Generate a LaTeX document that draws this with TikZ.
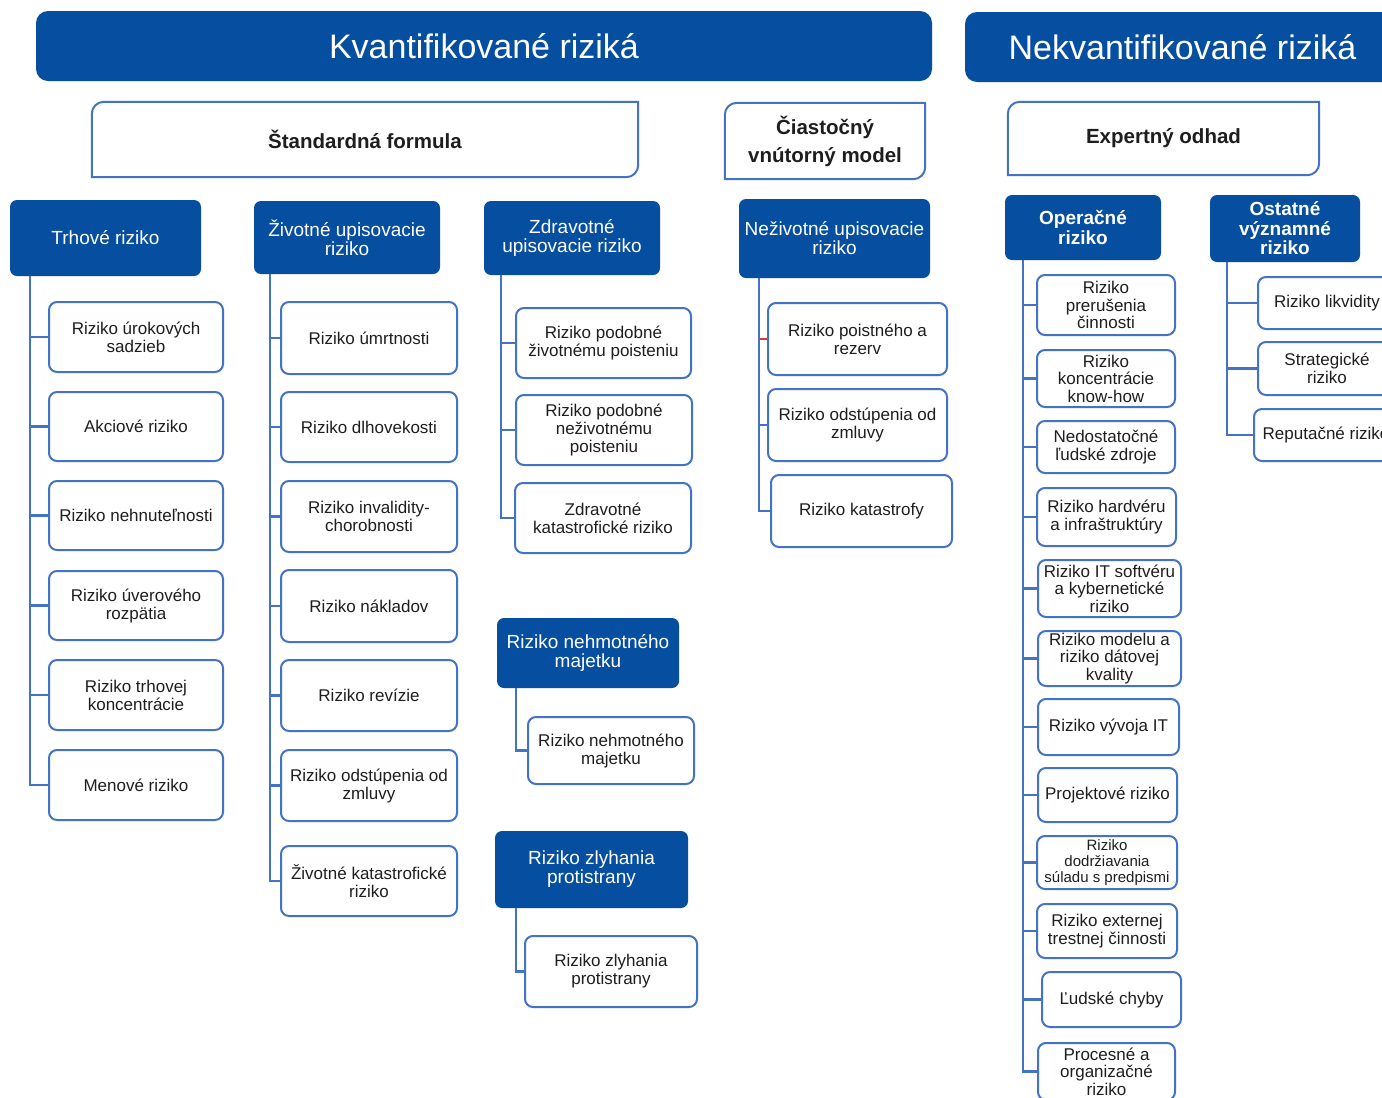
\documentclass[tikz,border=0pt]{standalone}
\usepackage{fontspec}
\setmainfont{Liberation Sans}
\definecolor{dblue}{HTML}{064E9F}
\definecolor{lblue}{HTML}{4472C4}
\definecolor{txt}{HTML}{1E1E1E}
\definecolor{redc}{HTML}{D9383A}
\newcommand\bx[7]{\node[#1,minimum width={(#4-#2)*1pt},minimum height={(#5-#3)*1pt}] (#6) at ({(#2+#4)/2},{(#3+#5)/2}) {#7};}
\newcommand\diagborder[1]{\draw[lblue,line width=2pt] (#1.south west) -- ([yshift=-12pt]#1.north west) arc[start angle=180,end angle=90,radius=12pt] -- (#1.north east) -- ([yshift=12pt]#1.south east) arc[start angle=0,end angle=-90,radius=12pt] -- cycle;}
\begin{document}
\begin{tikzpicture}[x=1pt,y=-1pt,
  top/.style={fill=dblue,draw=none,rounded corners=12pt,text=white,font=\fontsize{34}{40}\selectfont,inner sep=0pt},
  cat/.style={fill=dblue,draw=none,rounded corners=7pt,text=white,font=\fontsize{19}{19}\selectfont,align=center,inner sep=0pt},
  catb/.style={cat,font=\fontsize{19}{19.5}\selectfont\bfseries},
  leaf/.style={draw=lblue,line width=2pt,fill=white,rounded corners=8pt,text=txt,font=\fontsize{17}{18}\selectfont,align=center,inner sep=0pt},
  leaft/.style={leaf,font=\fontsize{17}{17.5}\selectfont},
  leafs/.style={leaf,font=\fontsize{15}{16}\selectfont},
  meth/.style={draw=none,text=txt,font=\fontsize{20.5}{28}\selectfont\bfseries,align=center,inner sep=0pt},
  conn/.style={draw=lblue,line width=2.2pt},
  connred/.style={draw=redc,line width=2.2pt}]
\clip (0,0) rectangle (1382,1098);
\fill[white] (0,0) rectangle (1382,1098);

% top headers
\bx{top}{36}{11}{932}{81}{kv}{Kvantifikované riziká}
\bx{top}{965}{12}{1400}{82}{nk}{Nekvantifikované riziká}

% methods
\bx{meth}{92}{102}{638}{177}{sf}{Štandardná formula}
\diagborder{sf}
\bx{meth}{725}{103}{925}{179}{cvm}{Čiastočný\\vnútorný model}
\diagborder{cvm}
\bx{meth}{1008}{102}{1319}{175}{eo}{Expertný odhad}
\diagborder{eo}

% categories
\bx{cat}{10}{200}{201}{276}{tr}{Trhové riziko}
\bx{cat}{254}{201}{440}{274}{zi}{Životné upisovacie\\riziko}
\bx{cat}{484}{201}{660}{275}{zd}{Zdravotné\\upisovacie riziko}
\bx{cat}{739}{199}{930}{278}{nz}{Neživotné upisovacie\\riziko}
\bx{catb}{1005}{195}{1161}{260}{op}{Operačné\\riziko}
\bx{catb}{1210}{195}{1360}{262}{os}{Ostatné\\významné\\riziko}
\bx{cat}{497}{618}{679}{688}{nm}{Riziko nehmotného\\majetku}
\bx{cat}{495}{831}{688}{908}{zp}{Riziko zlyhania\\protistrany}

% connector start points
\coordinate (trx) at (30,276);
\coordinate (zix) at (270,274);
\coordinate (zdx) at (501,275);
\coordinate (nzx) at (759,278);
\coordinate (nmx) at (516,688);
\coordinate (zpx) at (516,908);
\coordinate (opx) at (1023,260);
\coordinate (osx) at (1227,262);

% Trhove leaves
\bx{leaf}{49}{302}{223}{372}{t1}{Riziko úrokových\\sadzieb}
\bx{leaf}{49}{392}{223}{461}{t2}{Akciové riziko}
\bx{leaf}{49}{481}{223}{550}{t3}{Riziko nehnuteľnosti}
\bx{leaf}{49}{571}{223}{640}{t4}{Riziko úverového\\rozpätia}
\bx{leaf}{49}{660}{223}{730}{t5}{Riziko trhovej\\koncentrácie}
\bx{leaf}{49}{750}{223}{820}{t6}{Menové riziko}

% Zivotne leaves
\bx{leaf}{281}{302}{457}{374}{z1}{Riziko úmrtnosti}
\bx{leaf}{281}{392}{457}{462}{z2}{Riziko dlhovekosti}
\bx{leaf}{281}{481}{457}{552}{z3}{Riziko invalidity-\\chorobnosti}
\bx{leaf}{281}{570}{457}{642}{z4}{Riziko nákladov}
\bx{leaf}{281}{660}{457}{731}{z5}{Riziko revízie}
\bx{leaf}{281}{750}{457}{821}{z6}{Riziko odstúpenia od\\zmluvy}
\bx{leaf}{281}{846}{457}{916}{z7}{Životné katastrofické\\riziko}

% Zdravotne leaves
\bx{leaf}{516}{308}{691}{378}{d1}{Riziko podobné\\životnému poisteniu}
\bx{leaf}{516}{395}{692}{465}{d2}{Riziko podobné\\neživotnému\\poisteniu}
\bx{leaf}{515}{483}{691}{553}{d3}{Zdravotné\\katastrofické riziko}

% Nezivotne leaves
\bx{leaf}{768}{303}{947}{375}{n1}{Riziko poistného a\\rezerv}
\bx{leaf}{768}{389}{947}{461}{n2}{Riziko odstúpenia od\\zmluvy}
\bx{leaf}{771}{475}{952}{547}{n3}{Riziko katastrofy}

% Nehmotny / zlyhania leaves
\bx{leaf}{528}{717}{694}{784}{m1}{Riziko nehmotného\\majetku}
\bx{leaf}{525}{936}{697}{1007}{p1}{Riziko zlyhania\\protistrany}

% Operacne leaves
\bx{leaft}{1037}{275}{1175}{335}{o1}{Riziko\\prerušenia\\činnosti}
\bx{leaft}{1037}{350}{1175}{407}{o2}{Riziko\\koncentrácie\\know-how}
\bx{leaf}{1037}{421}{1175}{473}{o3}{Nedostatočné\\ľudské zdroje}
\bx{leaf}{1037}{488}{1176}{546}{o4}{Riziko hardvéru\\a infraštruktúry}
\bx{leaft}{1038}{560}{1181}{617}{o5}{Riziko IT softvéru\\a kybernetické\\riziko}
\bx{leaft}{1038}{631}{1181}{686}{o6}{Riziko modelu a\\riziko dátovej\\kvality}
\bx{leaf}{1038}{699}{1179}{755}{o7}{Riziko vývoja IT}
\bx{leaf}{1038}{768}{1177}{822}{o8}{Projektové riziko}
\bx{leafs}{1037}{836}{1177}{889}{o9}{Riziko\\dodržiavania\\súladu s predpismi}
\bx{leaf}{1037}{904}{1177}{958}{o10}{Riziko externej\\trestnej činnosti}
\bx{leaf}{1042}{972}{1181}{1027}{o11}{Ľudské chyby}
\bx{leaft}{1038}{1043}{1175}{1100}{o12}{Procesné a\\organizačné\\riziko}

% Ostatne leaves
\bx{leaf}{1258}{277}{1396}{329}{s1}{Riziko likvidity}
\bx{leaf}{1258}{342}{1396}{395}{s2}{Strategické\\riziko}
\bx{leaf}{1254}{409}{1398}{461}{s3}{Reputačné riziko}

% connectors
\draw[conn] (trx) |- (t6.west);
\foreach \c in {t1,t2,t3,t4,t5} \draw[conn] (trx |- \c.west) -- (\c.west);
\draw[conn] (zix) |- (z7.west);
\foreach \c in {z1,z2,z3,z4,z5,z6} \draw[conn] (zix |- \c.west) -- (\c.west);
\draw[conn] (zdx) |- (d3.west);
\foreach \c in {d1,d2} \draw[conn] (zdx |- \c.west) -- (\c.west);
\draw[conn] (nzx) |- (n3.west);
\draw[conn] (nzx |- n2.west) -- (n2.west);
\draw[connred] (nzx |- n1.west) -- (n1.west);
\draw[conn] (nmx) |- (m1.west);
\draw[conn] (zpx) |- (p1.west);
\draw[conn] (opx) |- (o12.west);
\foreach \c in {o1,o2,o3,o4,o5,o6,o7,o8,o9,o10,o11} \draw[conn] (opx |- \c.west) -- (\c.west);
\draw[conn] (osx) |- (s3.west);
\foreach \c in {s1,s2} \draw[conn] (osx |- \c.west) -- (\c.west);
\end{tikzpicture}
\end{document}
